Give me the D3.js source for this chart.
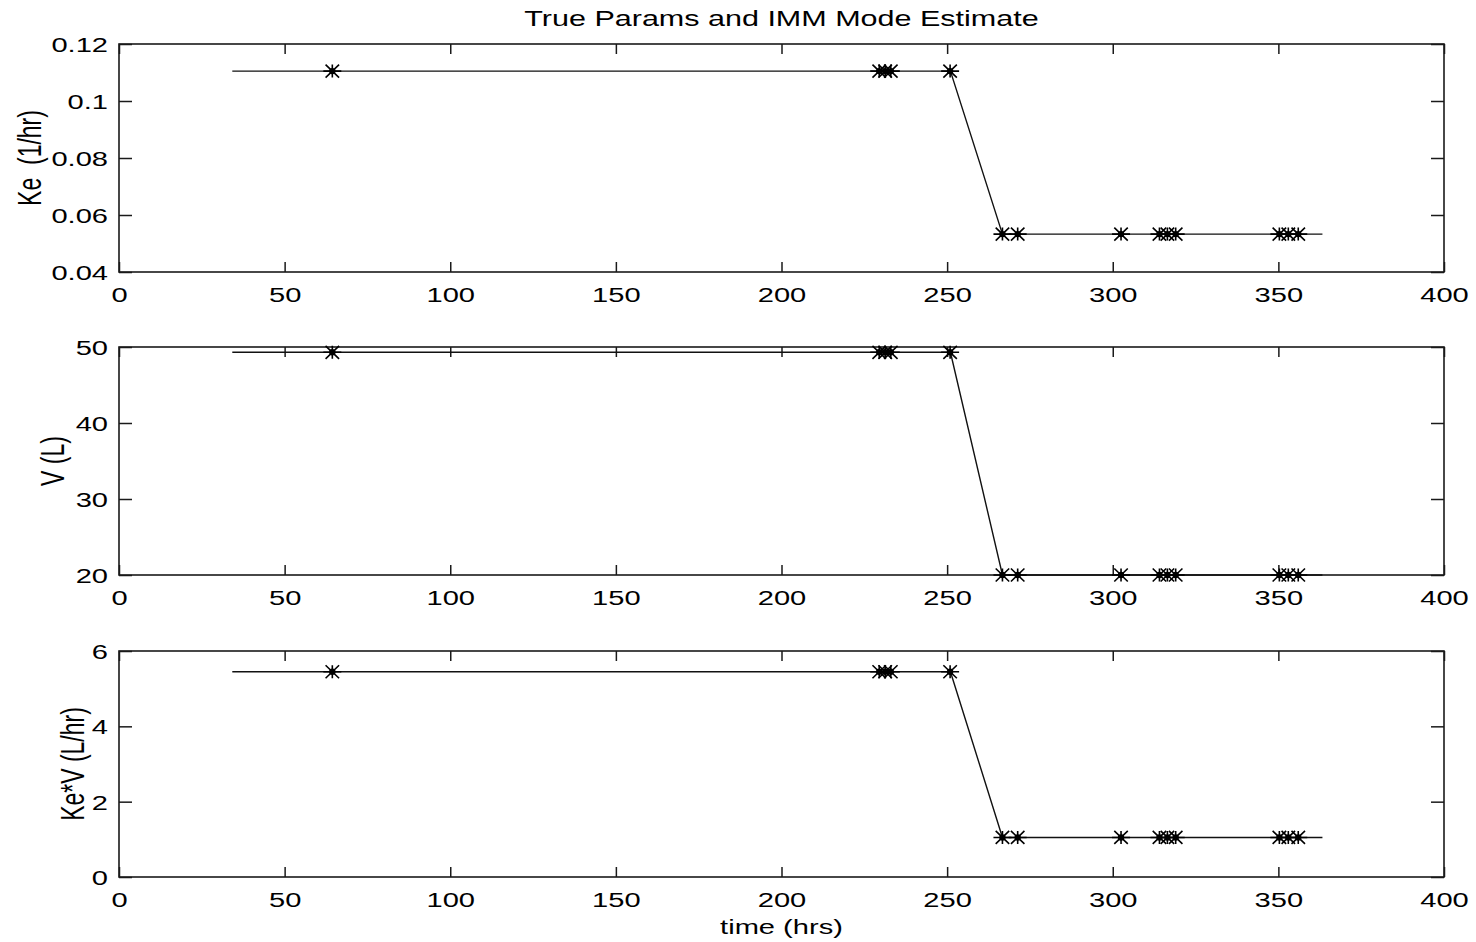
<!DOCTYPE html>
<html>
<head>
<meta charset="utf-8">
<script src="https://cdn.jsdelivr.net/npm/d3@7"></script>
<style>
  html, body { margin: 0; padding: 0; background: #fff; }
  svg { display: block; }
  text { font-family: "Liberation Sans", Arial, Helvetica, sans-serif; fill: #000; white-space: pre; }
</style>
</head>
<body>
<svg id="chart" width="1476" height="942"></svg>
<script>
// ---- data ----
// true parameter trajectory (piecewise linear)
const trueTimes = [34.2, 251.0, 266.7, 363.3];
const trueKe    = [0.1105, 0.1105, 0.0533, 0.0533];
const trueV     = [49.3, 49.3, 20.0, 20.0];
const trueKeV   = [5.45, 5.45, 1.05, 1.05];

// IMM mode estimate at measurement times
const estTimes = [64.4, 229.5, 231.3, 233.0, 250.9, 266.7, 271.3, 302.5, 314.1, 316.5, 319.0, 350.3, 353.0, 356.0];
const estKe    = [0.1105, 0.1105, 0.1105, 0.1105, 0.1105, 0.0533, 0.0533, 0.0533, 0.0533, 0.0533, 0.0533, 0.0533, 0.0533, 0.0533];
const estV     = [49.3, 49.3, 49.3, 49.3, 49.3, 20.0, 20.0, 20.0, 20.0, 20.0, 20.0, 20.0, 20.0, 20.0];
const estKeV   = [5.45, 5.45, 5.45, 5.45, 5.45, 1.05, 1.05, 1.05, 1.05, 1.05, 1.05, 1.05, 1.05, 1.05];

// axis ticks
const xTicks = [0, 50, 100, 150, 200, 250, 300, 350, 400];
const xTickLabels = ["0", "50", "100", "150", "200", "250", "300", "350", "400"];
const keTicks = [0.04, 0.06, 0.08, 0.10, 0.12];
const keTickLabels = ["0.04", "0.06", "0.08", "0.1", "0.12"];
const vTicks = [20, 30, 40, 50];
const vTickLabels = ["20", "30", "40", "50"];
const kevTicks = [0, 2, 4, 6];
const kevTickLabels = ["0", "2", "4", "6"];

const titleText = "True Params and IMM Mode Estimate";
const xLabelText = "time (hrs)";

// ---- layout ----
const svg = d3.select("#chart");
const SX = 1.42;          // horizontal glyph stretch
const FS = 20.5;          // tick / x-label font size
const TFS = 21.5;         // title font size
const LFS = 23;           // y-label font size
const left = 119, right = 1444;

const panels = [
  { top: 44,  bottom: 272, domain: [0.04, 0.12], ticks: keTicks,  labels: keTickLabels,  line: trueKe,  est: estKe,  ylabel: "Ke  (1/hr)",  ylabelX: 29 },
  { top: 347, bottom: 575, domain: [20, 50],     ticks: vTicks,   labels: vTickLabels,   line: trueV,   est: estV,   ylabel: "V (L)",       ylabelX: 52 },
  { top: 651, bottom: 877, domain: [0, 6],       ticks: kevTicks, labels: kevTickLabels, line: trueKeV, est: estKeV, ylabel: "Ke*V (L/hr)", ylabelX: 72 }
];

const x = d3.scaleLinear().domain([0, 400]).range([left, right]);

function starPath(hw, hh) {
  return `M${-hw},0L${hw},0M0,${-hh}L0,${hh}M${-hw*0.75},${-hh}L${hw*0.75},${hh}M${-hw*0.75},${hh}L${hw*0.75},${-hh}`;
}

panels.forEach(p => {
  const y = d3.scaleLinear().domain(p.domain).range([p.bottom, p.top]);
  const g = svg.append("g");

  // bottom axis with inward ticks and labels
  const xb = g.append("g").attr("transform", `translate(0,${p.bottom})`)
    .call(d3.axisBottom(x).tickValues(xTicks).tickFormat((d, i) => xTickLabels[i])
      .tickSize(-10).tickSizeOuter(0).tickPadding(15));
  xb.selectAll("text").attr("font-size", FS).attr("transform", `scale(${SX},1)`);

  // top axis ticks
  g.append("g").attr("transform", `translate(0,${p.top})`)
    .call(d3.axisTop(x).tickValues(xTicks).tickFormat("").tickSize(-10).tickSizeOuter(0));

  // left axis
  const yl = g.append("g").attr("transform", `translate(${left},0)`)
    .call(d3.axisLeft(y).tickValues(p.ticks).tickFormat((d, i) => p.labels[i])
      .tickSize(-13).tickSizeOuter(0));
  yl.selectAll("text").attr("font-size", FS).attr("x", -11 / SX).attr("dy", "0.36em")
    .attr("transform", `scale(${SX},1)`);

  // right axis ticks
  g.append("g").attr("transform", `translate(${right},0)`)
    .call(d3.axisRight(y).tickValues(p.ticks).tickFormat("").tickSize(-13).tickSizeOuter(0));

  g.selectAll(".domain").remove();
  g.selectAll(".tick line").attr("stroke", "#1a1a1a").attr("stroke-width", 1.5);

  // box
  g.append("rect").attr("x", left).attr("y", p.top)
    .attr("width", right - left).attr("height", p.bottom - p.top)
    .attr("fill", "none").attr("stroke", "#1a1a1a").attr("stroke-width", 1.6);

  // true parameter line
  const line = d3.line().x((d, i) => x(trueTimes[i])).y(d => y(d));
  g.append("path").datum(p.line).attr("d", line)
    .attr("fill", "none").attr("stroke", "#111").attr("stroke-width", 1.4);

  // estimate markers
  const m = g.append("g");
  m.selectAll("path.star").data(p.est).join("path").attr("class", "star")
    .attr("transform", (d, i) => `translate(${x(estTimes[i])},${y(d)})`)
    .attr("d", starPath(9, 6.5))
    .attr("fill", "none").attr("stroke", "#000").attr("stroke-width", 1.6);
  m.selectAll("circle").data(p.est).join("circle")
    .attr("cx", (d, i) => x(estTimes[i])).attr("cy", d => y(d))
    .attr("r", 3.2).attr("fill", "#000");

  // y label
  svg.append("text")
    .attr("transform", `translate(${p.ylabelX},${(p.top + p.bottom) / 2}) scale(${SX},1) rotate(-90)`)
    .attr("text-anchor", "middle").attr("dy", "0.36em")
    .attr("font-size", LFS).text(p.ylabel);
});

// title
svg.append("text")
  .attr("transform", `translate(${(left + right) / 2},26) scale(${SX},1)`)
  .attr("text-anchor", "middle").attr("font-size", TFS).text(titleText);

// x label
svg.append("text")
  .attr("transform", `translate(${(left + right) / 2},934) scale(${SX},1)`)
  .attr("text-anchor", "middle").attr("font-size", FS).text(xLabelText);
</script>
</body>
</html>
